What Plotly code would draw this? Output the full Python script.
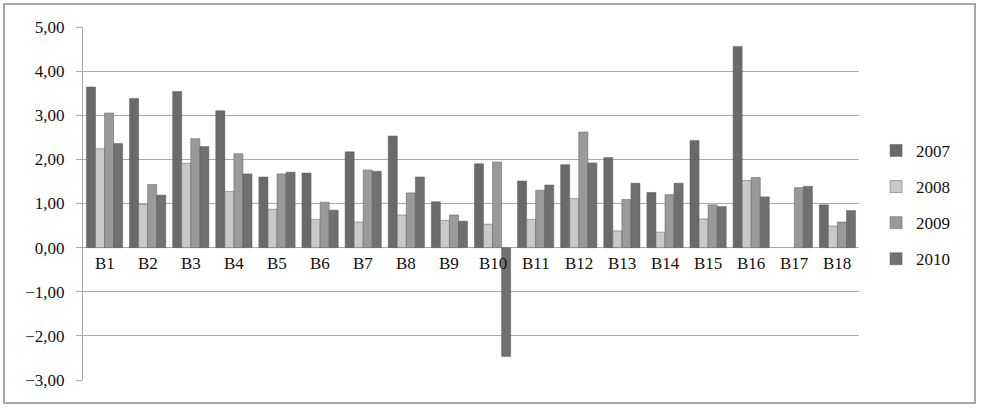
import plotly.graph_objects as go

# categories and yearly values
categories = ["B1", "B2", "B3", "B4", "B5", "B6", "B7", "B8", "B9",
              "B10", "B11", "B12", "B13", "B14", "B15", "B16", "B17", "B18"]
v2007 = [3.64, 3.38, 3.54, 3.10, 1.60, 1.69, 2.17, 2.53, 1.04,
         1.90, 1.51, 1.88, 2.04, 1.25, 2.43, 4.56, None, 0.97]
v2008 = [2.24, 0.98, 1.91, 1.27, 0.87, 0.64, 0.58, 0.74, 0.62,
         0.53, 0.64, 1.11, 0.38, 0.35, 0.65, 1.52, None, 0.49]
v2009 = [3.05, 1.43, 2.47, 2.13, 1.67, 1.03, 1.76, 1.24, 0.74,
         1.94, 1.30, 2.62, 1.09, 1.20, 0.97, 1.59, 1.36, 0.58]
v2010 = [2.36, 1.19, 2.29, 1.67, 1.71, 0.85, 1.73, 1.60, 0.60,
         -2.47, 1.42, 1.92, 1.46, 1.46, 0.93, 1.15, 1.39, 0.84]
years = ["2007", "2008", "2009", "2010"]
colors = ["#6a6a6a", "#c9c9c9", "#9a9a9a", "#707070"]

font = "Liberation Serif"

fig = go.Figure()
for i, (name, vals) in enumerate(zip(years, [v2007, v2008, v2009, v2010])):
    fig.add_trace(go.Bar(
        x=categories, y=vals, name=name, legendgroup=name,
        marker=dict(color=colors[i], line=dict(color="#5a5a5a", width=0.5)),
    ))

# category labels sit just under the zero line
for c in categories:
    fig.add_annotation(x=c, y=0, xref="x", yref="y", text=c, showarrow=False,
                       yanchor="top", yshift=-4, font=dict(family=font, size=17, color="#111"))

# outer chart border
fig.add_shape(type="rect", xref="paper", yref="paper",
              x0=-79 / 776, x1=(975 - 83) / 776, y0=-23 / 353, y1=(380 - 4) / 353,
              line=dict(color="#a8a8a8", width=2))

fig.update_layout(
    width=983, height=410,
    margin=dict(l=83, r=124, t=27, b=30),
    paper_bgcolor="white", plot_bgcolor="white",
    barmode="group", bargap=0.16, bargroupgap=0,
    separators=",.",
    font=dict(family=font, size=17, color="#111"),
    showlegend=True,
    legend=dict(x=1.022, y=0.7, xanchor="left", yanchor="top",
                font=dict(family=font, size=17, color="#111"), tracegroupgap=11,
                itemwidth=30, traceorder="grouped"),
    xaxis=dict(showticklabels=False, showgrid=False, zeroline=False,
               showline=False, ticks=""),
    yaxis=dict(range=[-3, 5], dtick=1, tickformat=".2f", showgrid=True,
               gridcolor="#a8a8a8", gridwidth=1, zeroline=True,
               zerolinecolor="#a8a8a8", zerolinewidth=1,
               showline=True, linecolor="#a8a8a8", linewidth=1,
               ticks="outside", ticklen=6, tickcolor="#a8a8a8",
               ticklabelstandoff=8,
               tickfont=dict(family=font, size=17, color="#111")),
)

fig.write_html("out.html", config={"displayModeBar": False},
               post_script="document.body.style.margin='0px';")
